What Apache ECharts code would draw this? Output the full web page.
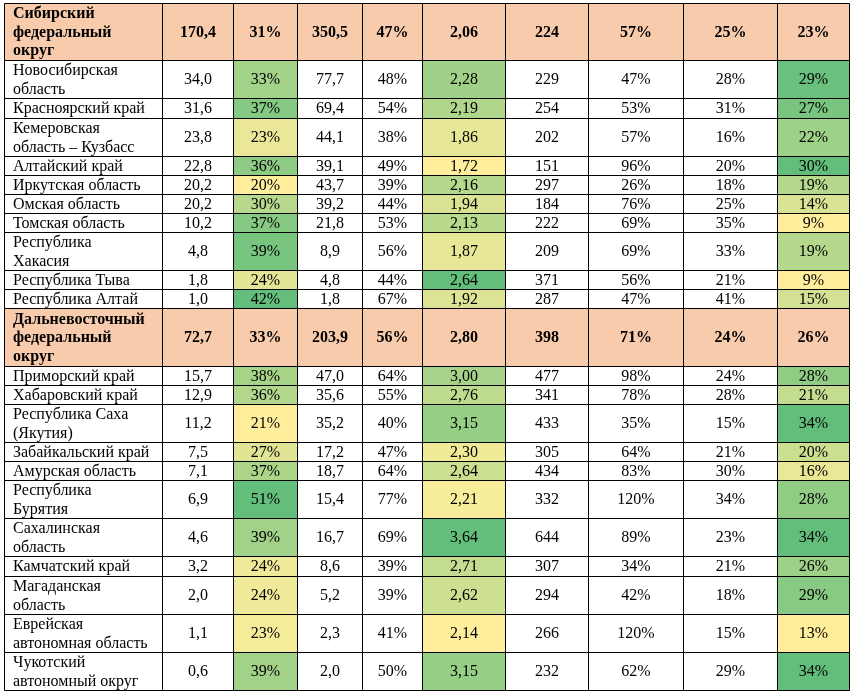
<!DOCTYPE html>
<html>
<head>
<meta charset="utf-8">
<script src="https://cdn.jsdelivr.net/npm/echarts@6/dist/echarts.min.js"></script>
<style>
html, body { margin: 0; padding: 0; background: #fff; }
#table { width: 855px; height: 695px; }
</style>
</head>
<body>
<div id="table"></div>
<script>
// Строки таблицы (перенос строки как в ячейке)
var rowNames = [
    'Сибирский\nфедеральный\nокруг',
    'Новосибирская\nобласть',
    'Красноярский край',
    'Кемеровская\nобласть – Кузбасс',
    'Алтайский край',
    'Иркутская область',
    'Омская область',
    'Томская область',
    'Республика\nХакасия',
    'Республика Тыва',
    'Республика Алтай',
    'Дальневосточный\nфедеральный\nокруг',
    'Приморский край',
    'Хабаровский край',
    'Республика Саха\n(Якутия)',
    'Забайкальский край',
    'Амурская область',
    'Республика\nБурятия',
    'Сахалинская\nобласть',
    'Камчатский край',
    'Магаданская\nобласть',
    'Еврейская\nавтономная область',
    'Чукотский\nавтономный округ'
];
// итоговые строки по округам
var isTotal = [true, false, false, false, false, false, false, false, false, false, false,
    true, false, false, false, false, false, false, false, false, false, false, false];

var valA   = [170.4, 34.0, 31.6, 23.8, 22.8, 20.2, 20.2, 10.2, 4.8, 1.8, 1.0,
              72.7, 15.7, 12.9, 11.2, 7.5, 7.1, 6.9, 4.6, 3.2, 2.0, 1.1, 0.6];
var shareA = [31, 33, 37, 23, 36, 20, 30, 37, 39, 24, 42,
              33, 38, 36, 21, 27, 37, 51, 39, 24, 24, 23, 39];
var valB   = [350.5, 77.7, 69.4, 44.1, 39.1, 43.7, 39.2, 21.8, 8.9, 4.8, 1.8,
              203.9, 47.0, 35.6, 35.2, 17.2, 18.7, 15.4, 16.7, 8.6, 5.2, 2.3, 2.0];
var shareB = [47, 48, 54, 38, 49, 39, 44, 53, 56, 44, 67,
              56, 64, 55, 40, 47, 64, 77, 69, 39, 39, 41, 50];
var ratio  = [2.06, 2.28, 2.19, 1.86, 1.72, 2.16, 1.94, 2.13, 1.87, 2.64, 1.92,
              2.80, 3.00, 2.76, 3.15, 2.30, 2.64, 2.21, 3.64, 2.71, 2.62, 2.14, 3.15];
var valC   = [224, 229, 254, 202, 151, 297, 184, 222, 209, 371, 287,
              398, 477, 341, 433, 305, 434, 332, 644, 307, 294, 266, 232];
var pctC   = [57, 47, 53, 57, 96, 26, 76, 69, 69, 56, 47,
              71, 98, 78, 35, 64, 83, 120, 89, 34, 42, 120, 62];
var pctD   = [25, 28, 31, 16, 20, 18, 25, 35, 33, 21, 41,
              24, 24, 28, 15, 21, 30, 34, 23, 21, 18, 15, 29];
var pctE   = [23, 29, 27, 22, 30, 19, 14, 9, 19, 9, 15,
              26, 28, 21, 34, 20, 16, 28, 34, 26, 29, 13, 34];

// раскладка: ширины колонок в пикселях и высота строки текста
var colWidths = [158, 71, 64, 65, 60, 83, 83, 95, 94, 72];
var totalFill = '#F8CBAD';
var scaleColors = ['#FFEF9C', '#63BE7B'];

function num(d) {
    return function (v) { return v.toFixed(d).replace('.', ','); };
}
function pct(v) { return v + '%'; }

var columns = [
    { data: rowNames, fmt: function (v) { return v; } },
    { data: valA, fmt: num(1) },
    { data: shareA, fmt: pct, scale: true },
    { data: valB, fmt: num(1) },
    { data: shareB, fmt: pct },
    { data: ratio, fmt: num(2), scale: true },
    { data: valC, fmt: num(0) },
    { data: pctC, fmt: pct },
    { data: pctD, fmt: pct },
    { data: pctE, fmt: pct, scale: true }
];

var colEdges = [0];
colWidths.forEach(function (w, i) { colEdges.push(colEdges[i] + w); });

var rowLines = rowNames.map(function (n) { return n.split('\n').length; });
var rowTop = [0];
rowLines.forEach(function (l, i) { rowTop.push(rowTop[i] + l); });

// группа = округ; цветовая шкала считается внутри округа
var group = [];
var g = -1;
isTotal.forEach(function (t) { if (t) g++; group.push(g); });

function scaleColor(data, r) {
    var vals = data.filter(function (v, i) { return !isTotal[i] && group[i] === group[r]; });
    var mn = Math.min.apply(null, vals), mx = Math.max.apply(null, vals);
    return echarts.color.lerp((data[r] - mn) / (mx - mn), scaleColors);
}

var cells = [];
rowNames.forEach(function (n, r) {
    columns.forEach(function (col, c) {
        var fill = '#fff';
        if (isTotal[r]) fill = totalFill;
        else if (col.scale) fill = scaleColor(col.data, r);
        cells.push({ value: [c, r], text: col.fmt(col.data[r]), fill: fill, bold: isTotal[r] });
    });
});

function renderItem(params, api) {
    var c = api.value(0), r = api.value(1);
    var cell = cells[params.dataIndex];
    var p0 = api.coord([colEdges[c], rowTop[r]]);
    var p1 = api.coord([colEdges[c + 1], rowTop[r + 1]]);
    var x0 = Math.round(p0[0]) + 0.5, y0 = Math.round(p0[1]) + 0.5;
    var x1 = Math.round(p1[0]) + 0.5, y1 = Math.round(p1[1]) + 0.5;
    return {
        type: 'group',
        children: [
            {
                type: 'rect',
                shape: { x: x0, y: y0, width: x1 - x0, height: y1 - y0 },
                style: { fill: cell.fill, stroke: '#000', lineWidth: 1 }
            },
            {
                type: 'text',
                x: c === 0 ? x0 + 8.5 : (x0 + x1) / 2,
                y: (y0 + y1) / 2 + 0.5,
                style: {
                    text: cell.text,
                    align: c === 0 ? 'left' : 'center',
                    verticalAlign: 'middle',
                    fontFamily: '"Liberation Serif", "Times New Roman", serif',
                    fontSize: 16,
                    fontWeight: cell.bold ? 'bold' : 'normal',
                    lineHeight: 18.6,
                    fill: '#000'
                }
            }
        ]
    };
}

var chart = echarts.init(document.getElementById('table'));

var option = {
    animation: false,
    grid: { left: 4, right: 6, top: 3, bottom: 5 },
    xAxis: { type: 'value', min: 0, max: colEdges[colEdges.length - 1], show: false },
    yAxis: { type: 'value', inverse: true, min: 0, max: rowTop[rowTop.length - 1], show: false },
    series: [{
        type: 'custom',
        clip: false,
        renderItem: renderItem,
        data: cells.map(function (c) { return c.value; })
    }]
};

chart.setOption(option);
</script>
</body>
</html>
